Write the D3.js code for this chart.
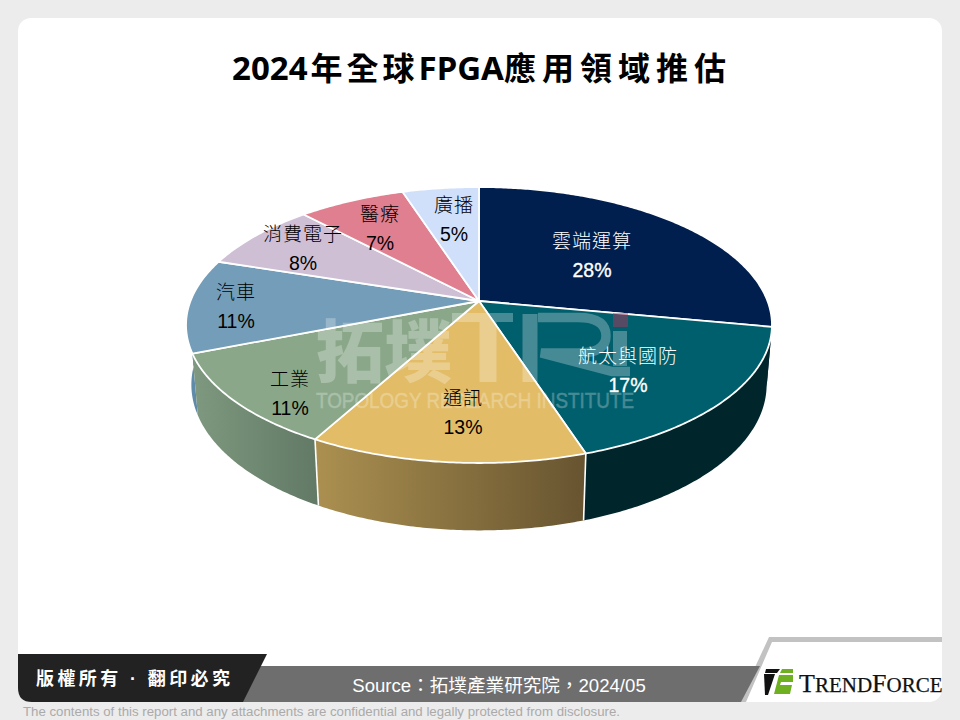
<!DOCTYPE html>
<html><head><meta charset="utf-8">
<script src="https://cdn.jsdelivr.net/npm/d3@7"></script>
<style>html,body{margin:0;padding:0;background:#ececec}svg{display:block}</style>
</head><body><svg id="c" width="960" height="720"></svg>
<script>
const categories=["雲端運算","航太與國防","通訊","工業","汽車","消費電子","醫療","廣播"];
const values=[28,17,13,11,11,8,7,5];
const topColors=["#001f4f","#005f6d","#e2bc66","#8aa889","#739db8","#cfbfd5","#e07f8f","#d0e0fa"];
const wallLeft=["#001a40","#00262c","#ab9050","#7e997f","#5f8aa8","#a89ab0","#b06a78","#a8b8d0"];
const wallRight=["#001a40","#00262c","#675430","#627a66","#5f8aa8","#a89ab0","#b06a78","#a8b8d0"];
const labelColors=["#fff","#fff","#000","#000","#000","#000","#000","#000"];
const labelPos=[[592,243],[628,358],[463,400],[290,381],[236,294],[303,236],[380,216],[454,207]];
const titleParts=[["2024",0,0],["年全球",4,3],["FPGA",0,0],["應用領域推估",6,0]];
const source="Source：拓墣產業研究院，2024/05";
const rights="版權所有 · 翻印必究";
const disclaimer="The contents of this report and any attachments are confidential and legally protected from disclosure.";

const svg=d3.select("#c");
const defs=svg.append("defs");
const cx=479,cy=301,A=288.5,B=133.8,C=59.8,k=0.174,m=0.018;
const xS=d3.scaleLinear().domain([-1,1]).range([-A,A]);
const yS=d3.scaleLinear().domain([-1,1]).range([-B,B]);
const project=(ang,h=0)=>{const u=Math.sin(ang),v=-Math.cos(ang),w=1-k*v+m*h;
  return [cx+xS(u)/w,cy+(yS(v)+C*h)/w];};
const line=d3.line();
const pie=d3.pie().sort(null).value(d=>d)(values);
const arcPts=(a0,a1,h)=>{const n=Math.max(2,Math.ceil((a1-a0)/0.01));
  return d3.range(n+1).map(i=>project(a0+(a1-a0)*i/n,h));};

svg.append("rect").attr("width",960).attr("height",720).attr("fill","#ececec");
svg.append("rect").attr("x",18).attr("y",18).attr("width",924).attr("height",684).attr("rx",13).attr("fill","#fff");

// Title
const tt=svg.append("text").attr("x",232).attr("y",80)
 .attr("font-family","'Noto Sans','Noto Sans CJK TC',sans-serif").attr("font-weight",700)
 .attr("font-size",33).attr("fill","#000");
titleParts.forEach(([s,ls,dx])=>tt.append("tspan").attr("letter-spacing",ls).attr("dx",dx)
  .attr("font-weight",ls?600:700).attr("font-size",ls?32:33).text(s));

// Walls
const order=pie.map((d,i)=>i).sort((a,b)=>{
  const f=d=>-Math.cos((pie[d].startAngle+pie[d].endAngle)/2);return f(a)-f(b);});
order.forEach(i=>{
  const d=pie[i],top=arcPts(d.startAngle,d.endAngle,0),bot=arcPts(d.startAngle,d.endAngle,1).reverse();
  const g=defs.append("linearGradient").attr("id","w"+i).attr("gradientUnits","userSpaceOnUse")
   .attr("x1",d3.min(top,p=>p[0])).attr("x2",d3.max(top,p=>p[0])).attr("y1",0).attr("y2",0);
  g.append("stop").attr("offset",0).attr("stop-color",wallLeft[i]);
  g.append("stop").attr("offset",1).attr("stop-color",wallRight[i]);
  svg.append("path").attr("d",line(top.concat(bot))+"Z").attr("fill",`url(#w${i})`);
});
pie.forEach(d=>{const a=d.startAngle;if(-Math.cos(a)>0.5){
  svg.append("path").attr("d",line([project(a,0),project(a,1)])).attr("stroke","#fff").attr("stroke-width",1.6).attr("fill","none");}});

// Top faces
pie.forEach((d,i)=>{
  svg.append("path").attr("d",line([[cx,cy]].concat(arcPts(d.startAngle,d.endAngle,0)))+"Z")
   .attr("fill",topColors[i]).attr("stroke","#fff").attr("stroke-width",1.8).attr("stroke-linejoin","round");
});

// Watermark
const wm=svg.append("g").attr("opacity",0.27);
wm.append("text").attr("x",316).attr("y",377).attr("fill","#fff").attr("font-family","'Noto Sans CJK TC',sans-serif").attr("font-weight",900).attr("font-size",68).text("拓墣");
wm.append("path").attr("fill","none").attr("stroke","#fff").attr("stroke-width",9).attr("d","M452,317.5H513");
wm.append("path").attr("fill","none").attr("stroke","#fff").attr("stroke-width",17).attr("d","M488,317V382");
wm.append("path").attr("fill","none").attr("stroke","#fff").attr("stroke-width",15).attr("d","M530,314V382");
wm.append("path").attr("fill","none").attr("stroke","#fff").attr("stroke-width",9.5)
  .attr("d","M538,317.5H578Q606,317.5 606,336Q606,353 578,353H541L612,371.5H630");
wm.append("path").attr("fill","none").attr("stroke","#fff").attr("stroke-width",14).attr("d","M620,331V366");
wm.append("text").attr("x",316).attr("y",408).attr("fill","#fff").attr("stroke","#fff").attr("stroke-width",0.4)
  .attr("font-family","'Liberation Sans',sans-serif").attr("font-size",22)
  .attr("textLength",318).attr("lengthAdjust","spacingAndGlyphs").text("TOPOLOGY RESEARCH INSTITUTE");
svg.append("rect").attr("x",613).attr("y",313).attr("width",15).attr("height",14).attr("fill","#c0305a").attr("opacity",0.45);

// Labels
categories.forEach((c,i)=>{
  const [x,y]=labelPos[i];
  svg.append("text").attr("x",x).attr("y",y).attr("text-anchor","middle").attr("dominant-baseline","middle")
   .attr("font-family","'Noto Sans CJK TC',sans-serif").attr("font-weight",300).attr("font-size",19).attr("letter-spacing",1)
   .attr("fill",labelColors[i]).text(c);
  svg.append("text").attr("x",x).attr("y",y+28.5).attr("text-anchor","middle").attr("dominant-baseline","middle")
   .attr("font-family","'Liberation Sans',sans-serif").attr("font-size",19.5)
   .attr("fill",labelColors[i]).attr("stroke",i<2?"#fff":"none").attr("stroke-width",0.35).text(values[i]+"%");
});

// Footer
const fg=svg.append("g");
fg.append("path").attr("d",line([[769,637],[942,637],[942,642],[772,642],[746,702],[739,702]])+"Z").attr("fill","#c2c2c2");
fg.append("path").attr("d",line([[243,666],[760,666],[741,702],[243,702]])+"Z").attr("fill","#6e6e6e");
fg.append("path").attr("d","M18,654L267,654L243,702L32,702Q18,702 18,688Z").attr("fill","#222");
fg.append("text").attr("x",36).attr("y",685).attr("font-family","'Liberation Sans','Noto Sans CJK TC',sans-serif").attr("font-weight",700)
 .attr("font-size",18).attr("letter-spacing",3.4).attr("fill","#fff").text(rights);
fg.append("text").attr("x",499).attr("y",692).attr("text-anchor","middle").attr("font-family","'Liberation Sans','Noto Sans CJK TC',sans-serif")
 .attr("font-size",18.6).attr("fill","#fff").text(source);
fg.append("text").attr("x",23).attr("y",716).attr("font-family","'Liberation Sans',sans-serif")
 .attr("font-size",12.5).attr("textLength",597).attr("lengthAdjust","spacingAndGlyphs").attr("fill","#aaa").text(disclaimer);
// Logo
fg.append("path").attr("d",line([[766,669],[780,669],[777,673],[765,673]])+"Z").attr("fill","#111");
fg.append("path").attr("d",line([[764,674],[775,674],[768,695],[765,695]])+"Z").attr("fill","#111");
fg.append("path").attr("d",line([[782,669],[793,669],[793,673],[780,673]])+"Z").attr("fill","#6fb021");
fg.append("path").attr("d",line([[779,675],[793,675],[793,682],[781,682],[780,685],[792,685],[790,694],[774,694]])+"Z").attr("fill","#6fb021");
const lt=fg.append("text").attr("x",799).attr("y",692).attr("font-family","'Liberation Serif',serif").attr("fill","#111").attr("stroke","#111").attr("stroke-width",0.25);
[["T",26],["REND",21],["F",26],["ORCE",21]].forEach(([s,fs])=>lt.append("tspan").attr("font-size",fs).text(s));
</script></body></html>
